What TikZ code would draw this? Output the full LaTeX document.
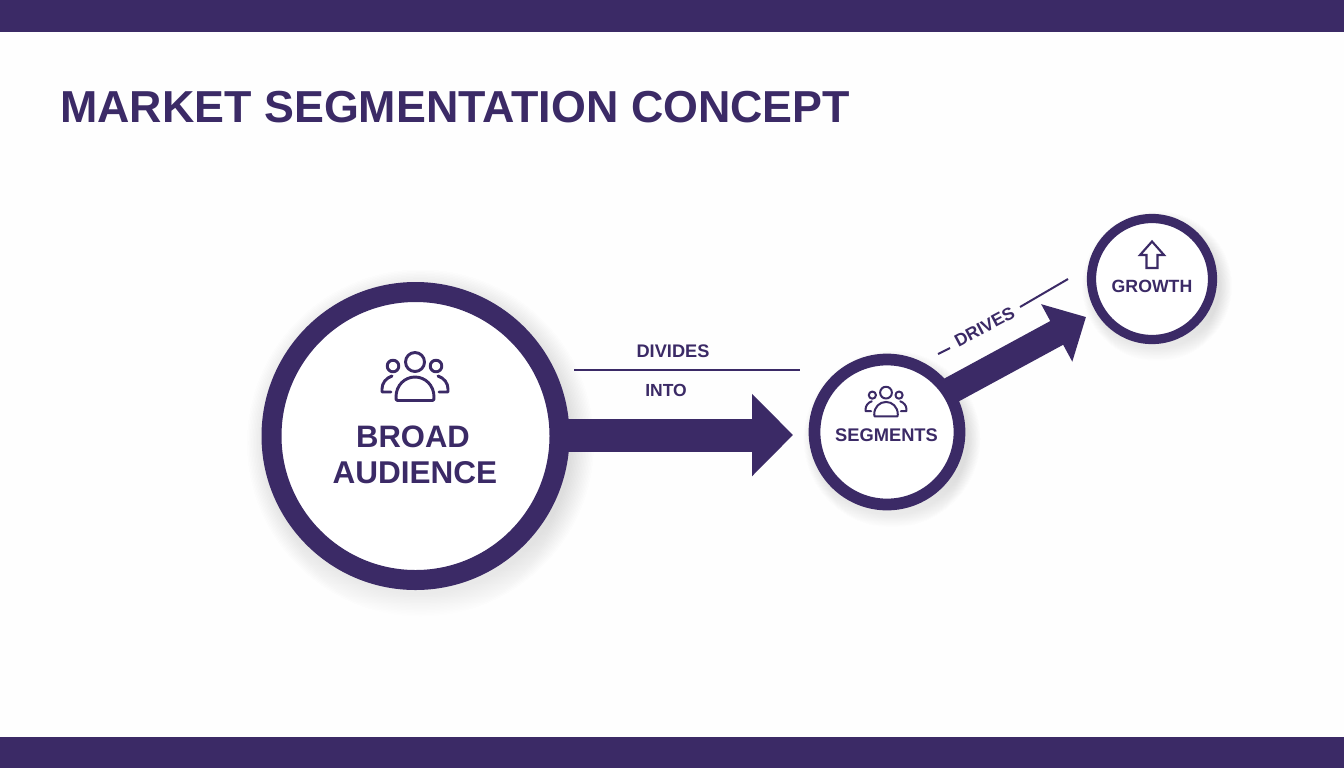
\documentclass[tikz,border=0pt]{standalone}
\usepackage{fontspec}
\setmainfont{Liberation Sans}
\usetikzlibrary{arrows.meta}
\definecolor{brand}{HTML}{3B2A66}
\definecolor{paper}{HTML}{FEFEFE}
\definecolor{shade}{HTML}{4A4560}
\newcommand{\pxfont}[1]{\pgfmathsetmacro{\fsz}{#1*0.75}\fontsize{\fsz pt}{\fsz pt}\selectfont}
\tikzset{
  x=0.75pt,y=-0.75pt,
  ring/.style={circle,draw=brand,fill=white,inner sep=0pt},
  lbl/.style={text=brand,font=\bfseries,inner sep=0pt,anchor=center},
  thin rule/.style={draw=brand,line width=1.9pt},
  icon line/.style={draw=brand,line join=round,line cap=round},
  people/.pic={
    \draw[icon line] (0,-74) circle (9.5);
    \draw[icon line] (-22,-70) circle (5.8);
    \draw[icon line] (21,-70) circle (5.8);
    \draw[icon line] (-17.5,-35.5) .. controls (-19,-35.5) and (-19,-37) .. (-19,-39)
       .. controls (-19,-51) and (-10,-59) .. (0,-59)
       .. controls (10,-59) and (19,-51) .. (19,-39)
       .. controls (19,-37) and (19,-35.5) .. (17.5,-35.5) -- cycle;
    \draw[icon line] (-23,-60) .. controls (-29,-58) and (-33,-53) .. (-33,-47)
       -- (-33,-44) -- (-24,-44);
    \draw[icon line] (23,-60) .. controls (29,-58) and (33,-53) .. (33,-47)
       -- (33,-44) -- (24,-44);
  }
}
% #4 = how far the soft edge reaches past the circle
\newcommand{\softshadow}[4]{%
  \foreach \k in {0,...,15}{
    \fill[shade,opacity=0.0055] (#1+5,#2+7) circle ({#3+#4-\k*(#4+2)/15});
  }%
}
\begin{document}
\begin{tikzpicture}
\useasboundingbox (0,0) rectangle (1344,768);
\fill[paper] (0,0) rectangle (1344,768);
\fill[brand] (0,0) rectangle (1344,32);
\fill[brand] (0,737) rectangle (1344,768);
\node[lbl,anchor=west] (title) at (60,107) {\pxfont{44.8}MARKET SEGMENTATION CONCEPT};

\softshadow{415.5}{436}{153.5}{20}
\softshadow{887}{432}{78.5}{10}
\softshadow{1152}{279}{65}{10}

\node[ring,line width=15pt,minimum size=216pt] (big) at (415.5,436) {};
\node[ring,line width=8.8pt,minimum size=108.75pt] (seg) at (887,432) {};
\node[ring,line width=6.9pt,minimum size=90.75pt] (grow) at (1152,279) {};

\coordinate (tipA) at (793,435);
\coordinate (tipB) at (1086,317);
\draw[draw=brand,line width=24.75pt,shorten <=-3pt,
  -{Triangle[length=30.75pt,width=60pt,fill=brand]}] (big.east |- tipA) -- (tipA);
\draw[draw=brand,line width=20.25pt,shorten <=-3.5pt,
  -{Triangle[length=25pt,width=47.5pt,fill=brand]}] (seg.33) -- (tipB);

\pic[line width=2.2pt] at (415,436) {people};
\pic[line width=1.5pt,scale=0.62] at (886,438.5) {people};

\node[lbl] (broad) at (413,437) {\pxfont{31}BROAD};
\node[lbl] (aud) at (415,473) {\pxfont{31.5}AUDIENCE};
\node[lbl] (segt) at (886.5,435) {\pxfont{18.3}SEGMENTS};
\node[lbl] (growt) at (1152,286) {\pxfont{17.7}GROWTH};

\coordinate (ruleL) at (574,370);
\coordinate (ruleR) at (800,370);
\draw[thin rule] (ruleL) -- (ruleR);
\node[lbl] (div) at (673,351) {\pxfont{18.2}DIVIDES};
\node[lbl] (into) at (666,390) {\pxfont{17.5}INTO};

\node[lbl,rotate=28] (drv) at (984.5,327) {\pxfont{17.5}DRIVES};
\coordinate (dashA) at (938,354);
\coordinate (dashB) at (950,348);
\coordinate (dashC) at (1020,307);
\coordinate (dashD) at (1068,279);
\draw[thin rule,line width=1.5pt] (dashA) -- (dashB);
\draw[thin rule,line width=1.5pt] (dashC) -- (dashD);

\draw[icon line,line width=1.6pt,line cap=butt,line join=miter]
  (1152,241.5) -- (1164,255) -- (1157.5,255) -- (1157.5,268) -- (1146.5,268)
  -- (1146.5,255) -- (1140,255) -- cycle;
\end{tikzpicture}
\end{document}
